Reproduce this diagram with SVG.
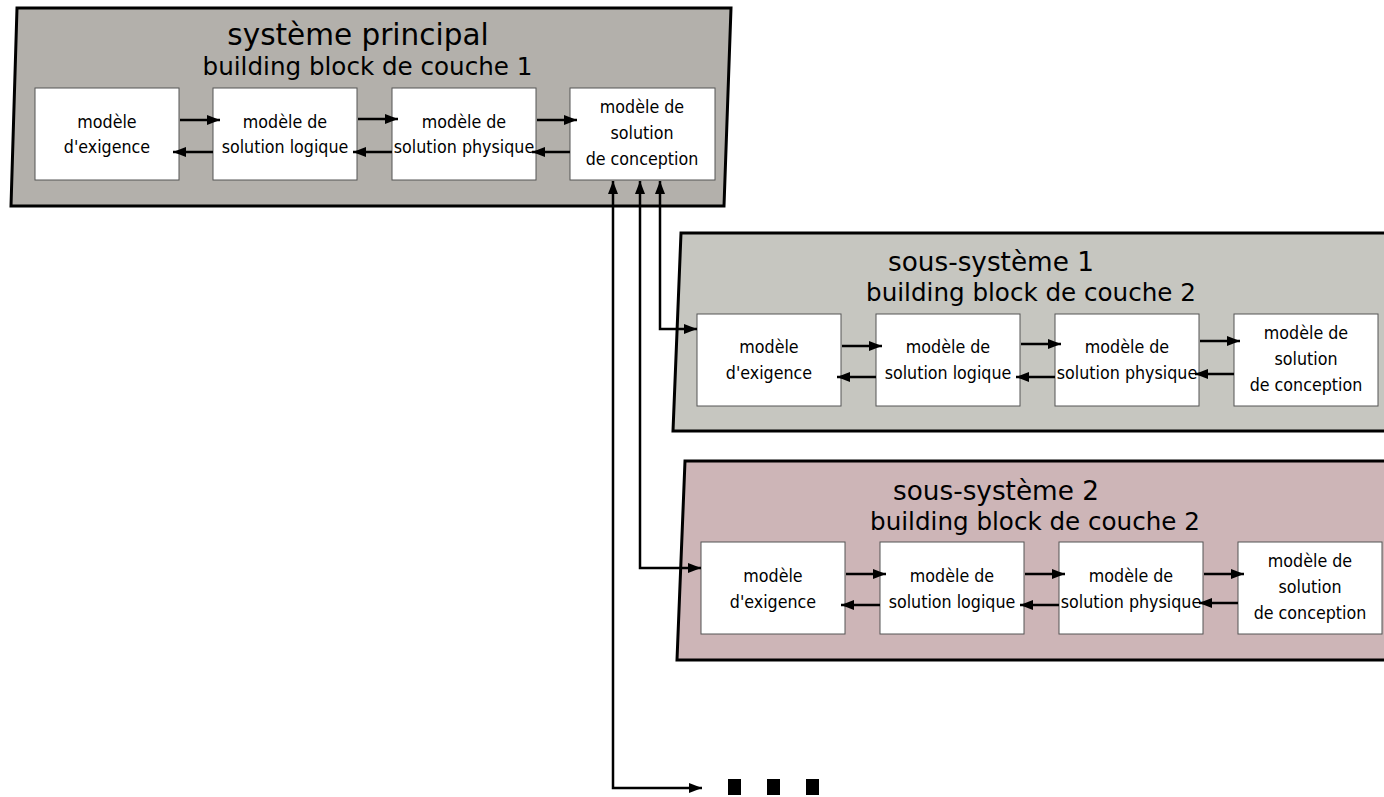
<svg xmlns="http://www.w3.org/2000/svg" width="1384" height="797" viewBox="0 0 1384 797">
<defs>
<marker id="ah" viewBox="0 0 13 10" refX="13" refY="5" markerWidth="13" markerHeight="10" markerUnits="userSpaceOnUse" orient="auto-start-reverse">
<path d="M0,0 L13,5 L0,10 z" fill="#000"/>
</marker>
<style>
.panel{stroke:#000;stroke-width:3;stroke-linejoin:miter}
.box{fill:#fff;stroke:#555;stroke-width:1}
.title{font-family:"DejaVu Sans",sans-serif;font-size:29.5px;text-anchor:middle;fill:#000}
.stitle{font-family:"DejaVu Sans",sans-serif;font-size:26.3px;text-anchor:middle;fill:#000}
.sub{font-family:"DejaVu Sans",sans-serif;font-size:24.6px;text-anchor:middle;fill:#000}
.lbl{font-family:"DejaVu Sans Condensed","DejaVu Sans",sans-serif;font-stretch:condensed;font-size:17.7px;text-anchor:middle;fill:#000}
.c{fill:none;stroke:#000;stroke-width:2.5}
</style>
</defs>

<g id="main">
<polygon class="panel" points="17,8 731,8 724,206 11,206" fill="#b3b0ab"/>
<text class="title" x="358" y="45">système principal</text>
<text class="sub" x="367.5" y="75">building block de couche 1</text>
<g id="main-req"><rect class="box" x="35" y="88" width="144" height="92"/><text class="lbl" x="107" y="128">modèle</text><text class="lbl" x="107" y="153">d'exigence</text></g>
<g id="main-log"><rect class="box" x="213" y="88" width="144" height="92"/><text class="lbl" x="285" y="128">modèle de</text><text class="lbl" x="285" y="153">solution logique</text></g>
<g id="main-phy"><rect class="box" x="392" y="88" width="144" height="92"/><text class="lbl" x="464" y="128">modèle de</text><text class="lbl" x="464" y="153">solution physique</text></g>
<g id="main-con"><rect class="box" x="570" y="88" width="145" height="92"/><text class="lbl" x="642" y="113">modèle de</text><text class="lbl" x="642" y="139">solution</text><text class="lbl" x="642" y="165">de conception</text></g>
</g>

<g id="ss1">
<polygon class="panel" points="681,233 1390,233 1390,431 673,431" fill="#c6c6c0"/>
<text class="stitle" x="991" y="271">sous-système 1</text>
<text class="sub" x="1031" y="301">building block de couche 2</text>
<g id="ss1-req"><rect class="box" x="697" y="314" width="144" height="92"/><text class="lbl" x="769" y="353">modèle</text><text class="lbl" x="769" y="379">d'exigence</text></g>
<g id="ss1-log"><rect class="box" x="876" y="314" width="144" height="92"/><text class="lbl" x="948" y="353">modèle de</text><text class="lbl" x="948" y="379">solution logique</text></g>
<g id="ss1-phy"><rect class="box" x="1055" y="314" width="144" height="92"/><text class="lbl" x="1127" y="353">modèle de</text><text class="lbl" x="1127" y="379">solution physique</text></g>
<g id="ss1-con"><rect class="box" x="1234" y="314" width="144" height="92"/><text class="lbl" x="1306" y="339">modèle de</text><text class="lbl" x="1306" y="365">solution</text><text class="lbl" x="1306" y="391">de conception</text></g>
</g>

<g id="ss2">
<polygon class="panel" points="685,461 1390,461 1390,660 677,660" fill="#cdb5b7"/>
<text class="stitle" x="996" y="500">sous-système 2</text>
<text class="sub" x="1035" y="530">building block de couche 2</text>
<g id="ss2-req"><rect class="box" x="701" y="542" width="144" height="92"/><text class="lbl" x="773" y="582">modèle</text><text class="lbl" x="773" y="608">d'exigence</text></g>
<g id="ss2-log"><rect class="box" x="880" y="542" width="144" height="92"/><text class="lbl" x="952" y="582">modèle de</text><text class="lbl" x="952" y="608">solution logique</text></g>
<g id="ss2-phy"><rect class="box" x="1059" y="542" width="144" height="92"/><text class="lbl" x="1131" y="582">modèle de</text><text class="lbl" x="1131" y="608">solution physique</text></g>
<g id="ss2-con"><rect class="box" x="1238" y="542" width="144" height="92"/><text class="lbl" x="1310" y="567">modèle de</text><text class="lbl" x="1310" y="593">solution</text><text class="lbl" x="1310" y="619">de conception</text></g>
</g>

<g id="connectors">
<line class="c" x1="180" y1="120" x2="220" y2="120" marker-end="url(#ah)"/>
<line class="c" x1="213" y1="152" x2="173" y2="152" marker-end="url(#ah)"/>
<line class="c" x1="358" y1="119" x2="398" y2="119" marker-end="url(#ah)"/>
<line class="c" x1="392" y1="152" x2="353" y2="152" marker-end="url(#ah)"/>
<line class="c" x1="537" y1="120" x2="577" y2="120" marker-end="url(#ah)"/>
<line class="c" x1="570" y1="152" x2="532" y2="152" marker-end="url(#ah)"/>

<line class="c" x1="842" y1="346" x2="882" y2="346" marker-end="url(#ah)"/>
<line class="c" x1="876" y1="377" x2="837" y2="377" marker-end="url(#ah)"/>
<line class="c" x1="1021" y1="344" x2="1061" y2="344" marker-end="url(#ah)"/>
<line class="c" x1="1055" y1="377" x2="1016" y2="377" marker-end="url(#ah)"/>
<line class="c" x1="1200" y1="341" x2="1240" y2="341" marker-end="url(#ah)"/>
<line class="c" x1="1234" y1="374" x2="1195" y2="374" marker-end="url(#ah)"/>

<line class="c" x1="846" y1="574" x2="886" y2="574" marker-end="url(#ah)"/>
<line class="c" x1="880" y1="605" x2="841" y2="605" marker-end="url(#ah)"/>
<line class="c" x1="1025" y1="574" x2="1065" y2="574" marker-end="url(#ah)"/>
<line class="c" x1="1059" y1="605" x2="1020" y2="605" marker-end="url(#ah)"/>
<line class="c" x1="1204" y1="574" x2="1244" y2="574" marker-end="url(#ah)"/>
<line class="c" x1="1238" y1="603" x2="1199" y2="603" marker-end="url(#ah)"/>

<path class="c" d="M660,181 V329 H697" marker-start="url(#ah)" marker-end="url(#ah)"/>
<path class="c" d="M640,181 V568 H701" marker-start="url(#ah)" marker-end="url(#ah)"/>
<path class="c" d="M613,181 V788 H702" marker-start="url(#ah)" marker-end="url(#ah)"/>
</g>

<g id="more">
<rect x="728" y="779" width="13" height="16" fill="#000"/>
<rect x="767" y="779" width="13" height="16" fill="#000"/>
<rect x="806" y="779" width="13" height="16" fill="#000"/>
</g>
</svg>
